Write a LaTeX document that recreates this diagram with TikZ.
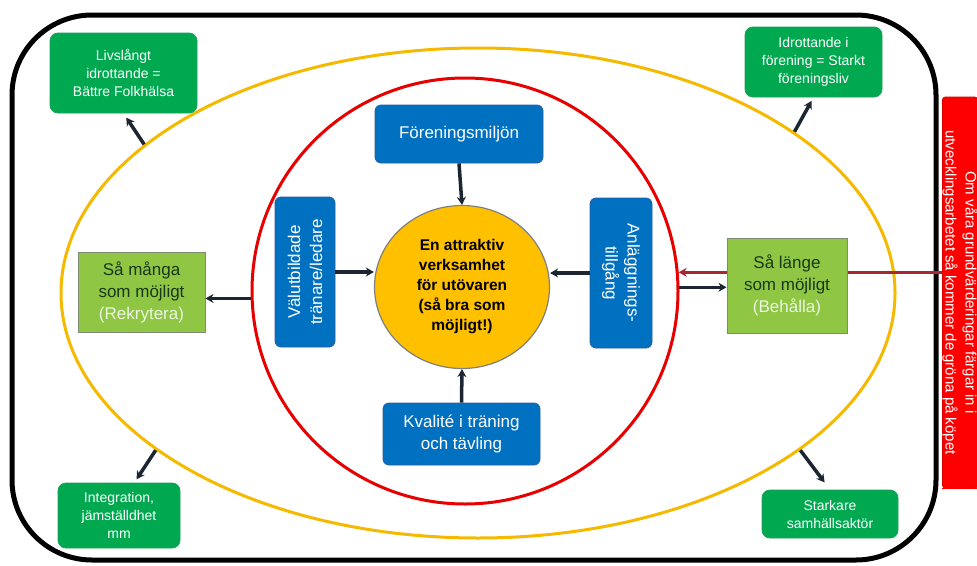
\documentclass[tikz,border=0pt]{standalone}
\usepackage{fontspec}
\setmainfont{Liberation Sans}
\usetikzlibrary{shapes.geometric,arrows.meta}
\definecolor{dkgreen}{RGB}{0,168,80}
\definecolor{ltgreen}{RGB}{143,198,68}
\definecolor{ltgreenborder}{RGB}{125,140,115}
\definecolor{boxblue}{RGB}{0,112,192}
\definecolor{boxblueborder}{RGB}{40,95,160}
\definecolor{coreorange}{RGB}{255,192,0}
\definecolor{ringyellow}{RGB}{245,185,0}
\definecolor{ringred}{RGB}{232,0,0}
\definecolor{sideboxred}{RGB}{255,0,0}
\definecolor{arrowdark}{RGB}{28,38,50}
\definecolor{arrowred}{RGB}{165,40,50}
\definecolor{darktext}{RGB}{25,55,25}
\definecolor{paletext}{RGB}{235,245,225}
\tikzset{
  outerframe/.style={draw=black, line width=5, rounded corners=80, inner sep=0},
  ring/.style={draw, line width=3, inner sep=0},
  corebox/.style={ellipse, fill=coreorange, draw=gray, line width=1.2, inner sep=0, align=center,
    font={\fontsize{15.5}{20}\selectfont\bfseries}},
  bluebox/.style={rectangle, rounded corners=6, fill=boxblue, draw=boxblueborder, line width=0.8,
    text=white, inner sep=0, align=center, font={\fontsize{17}{22}\selectfont}},
  goalbox/.style={rectangle, fill=ltgreen, draw=ltgreenborder, line width=1, text=darktext,
    inner sep=0, align=center, font={\fontsize{17}{22}\selectfont}},
  resultbox/.style={rectangle, rounded corners=8, fill=dkgreen, draw=dkgreen!80!gray, line width=0.8,
    text=white, inner sep=0, align=center, font={\fontsize{14}{18}\selectfont}},
  notebox/.style={rectangle, fill=sideboxred, draw=sideboxred!85!black, line width=0.8, rounded corners=3,
    text=white, inner sep=0, align=center, font={\fontsize{15}{20}\selectfont}},
  arr/.style={draw=arrowdark, line width=3.5, -{Stealth[length=8pt,width=9pt]}},
  redarr/.style={draw=arrowred, line width=3.5, -{Stealth[length=8pt,width=9pt]}}
}
\begin{document}
\begin{tikzpicture}[x=1pt,y=-1pt]
\useasboundingbox (0,0) rectangle (977,565);
\fill[white] (0,0) rectangle (977,565);

% frame and rings
\node[outerframe, minimum width=924, minimum height=545] (frame) at (474,287.5) {};
\node[ring, ellipse, draw=ringyellow, minimum width=834, minimum height=490] (yel) at (478,293) {};
\node[ring, circle, draw=ringred, minimum size=426] (redcirc) at (465,291) {};

% side note
\node[notebox, rotate=-90, minimum width=391, minimum height=34] (note) at (960,292.5)
  {Om våra grundvärderingar färgar in i\\utvecklingsarbetet så kommer de gröna på köpet};
\fill[sideboxred] (note.south east) rectangle (990,488);
\draw[redarr] (redcirc.5 -| note.south) -- (redcirc.5);

% centre
\node[corebox, minimum width=175, minimum height=163] (core) at (462,287)
  {En attraktiv\\verksamhet\\för utövaren\\(så bra som\\möjligt!)};

% blue factors
\node[bluebox, minimum width=168, minimum height=58] (miljo) at (459,134) {Föreningsmiljön};
\node[bluebox, minimum width=157, minimum height=62] (kval) at (461.5,434) {Kvalité i träning\\och tävling};
\node[bluebox, rotate=90, minimum width=150, minimum height=60] (ledare) at (305,272) {Välutbildade\\tränare/ledare};
\node[bluebox, rotate=-90, minimum width=150, minimum height=62] (anl) at (621,273) {Anläggnings-\\tillgång};

\draw[arr] (miljo.south) -- (core.north);
\draw[arr] (kval.north) -- (core.south);
\draw[arr] (ledare) -- (core.west |- ledare);
\draw[arr] (anl) -- (core.east |- anl);

% goals
\node[goalbox, minimum width=127, minimum height=80] (manga) at (141.5,292)
  {Så många\\som möjligt\\{\color{paletext}(Rekrytera)}};
\node[goalbox, minimum width=120, minimum height=95] (lange) at (787,285.5)
  {Så länge\\som möjligt\\{\color{paletext}(Behålla)}};

\draw[arr] (redcirc.182) -- (manga.east |- redcirc.182);
\draw[arr] (redcirc.1.6) -- (lange.west |- redcirc.1.6);

% results
\node[resultbox, minimum width=147, minimum height=80] (folk) at (123.5,73)
  {Livslångt\\idrottande =\\Bättre Folkhälsa};
\node[resultbox, minimum width=137, minimum height=70] (forliv) at (813.5,62)
  {Idrottande i\\förening = Starkt\\föreningsliv};
\node[resultbox, minimum width=122, minimum height=65] (integ) at (119,515.5)
  {Integration,\\jämställdhet\\mm};
\node[resultbox, minimum width=136, minimum height=48] (samh) at (830,514)
  {Starkare\\samhällsaktör};

\draw[arr, shorten >=5pt] (yel.156) -- (folk.south);
\draw[arr, shorten >=4pt] (yel.27.3) -- (forliv.south);
\draw[arr, shorten >=4pt] (yel.206) -- (integ.65);
\draw[arr, shorten >=9pt] (yel.334) -- (samh.north);
\end{tikzpicture}
\end{document}
